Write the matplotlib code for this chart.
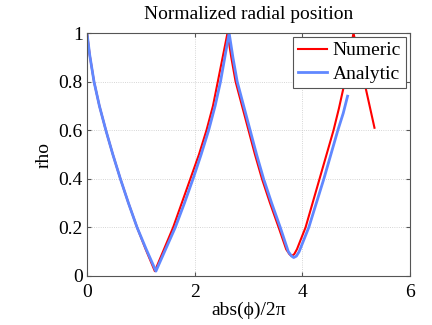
import numpy as np
import matplotlib
matplotlib.use('Agg')
import matplotlib.pyplot as plt

# values
num_x = [0.0, 0.05, 0.13, 0.23, 0.35, 0.48, 0.62, 0.77, 0.93, 1.09, 1.26,
         1.43, 1.60, 1.76, 1.92, 2.08, 2.22, 2.34, 2.43, 2.52, 2.61,
         2.68, 2.76, 2.88, 3.00, 3.12, 3.25, 3.40, 3.56, 3.70, 3.76, 3.80,
         3.85, 3.90, 4.06, 4.19, 4.32, 4.45, 4.58, 4.68, 4.77, 4.86, 4.95, 5.34]
num_rho = [1.0, 0.91, 0.80, 0.70, 0.60, 0.50, 0.40, 0.30, 0.20, 0.11, 0.02,
           0.11, 0.20, 0.30, 0.40, 0.50, 0.60, 0.70, 0.80, 0.90, 1.0,
           0.90, 0.80, 0.70, 0.60, 0.50, 0.40, 0.30, 0.20, 0.11, 0.09, 0.082,
           0.09, 0.11, 0.20, 0.30, 0.40, 0.50, 0.60, 0.69, 0.78, 0.89, 1.0, 0.61]

ana_x = [0.0, 0.05, 0.13, 0.23, 0.35, 0.48, 0.62, 0.77, 0.93, 1.10, 1.28,
         1.46, 1.64, 1.81, 1.97, 2.12, 2.26, 2.38, 2.48, 2.56, 2.64,
         2.71, 2.79, 2.91, 3.03, 3.15, 3.28, 3.43, 3.59, 3.74, 3.80, 3.84,
         3.89, 3.94, 4.12, 4.26, 4.40, 4.53, 4.66, 4.76, 4.84]
ana_rho = [1.0, 0.91, 0.80, 0.70, 0.60, 0.50, 0.40, 0.30, 0.20, 0.11, 0.02,
           0.11, 0.20, 0.30, 0.40, 0.50, 0.60, 0.70, 0.80, 0.90, 1.0,
           0.90, 0.80, 0.70, 0.60, 0.50, 0.40, 0.30, 0.20, 0.10, 0.082, 0.076,
           0.082, 0.10, 0.20, 0.30, 0.40, 0.50, 0.60, 0.67, 0.74]

plt.rcParams['font.family'] = ['Liberation Serif', 'DejaVu Serif']
plt.rcParams['font.size'] = 14

fig = plt.figure(figsize=(4.32, 3.25), dpi=100)
ax = fig.add_axes([87/432, 49/325, 323/432, 243/325])

ax.plot(num_x, num_rho, color='#ff0000', lw=1.5, label='Numeric')
ax.plot(ana_x, ana_rho, color='#6088ff', lw=2.0, label='Analytic')

ax.set_xlim(0, 6)
ax.set_ylim(0, 1)
ax.set_xticks([0, 2, 4, 6])
ax.set_yticks([0, 0.2, 0.4, 0.6, 0.8, 1])
ax.set_yticklabels(['0', '0.2', '0.4', '0.6', '0.8', '1'])
ax.grid(True, linestyle=':', color='#c8c8c8', lw=0.6)
ax.tick_params(direction='in', top=True, right=True, length=3,
               color='#555555', pad=3, labelsize=14)
ax.tick_params(axis='x', pad=6)
for s in ax.spines.values():
    s.set_color('#555555')
    s.set_linewidth(0.8)

ax.set_title('Normalized radial position', fontsize=14, pad=10)
ax.set_xlabel('abs(ϕ)/2π', fontsize=14, labelpad=0)
ax.set_ylabel('rho', fontsize=14, labelpad=4)

leg = ax.legend(loc='upper right', fontsize=14, fancybox=False, framealpha=1,
                edgecolor='#555555', borderaxespad=0.2, borderpad=0.25,
                labelspacing=0.3, handlelength=1.5, handletextpad=0.3)
leg.get_frame().set_linewidth(0.8)

fig.savefig('out.png', dpi=100)
